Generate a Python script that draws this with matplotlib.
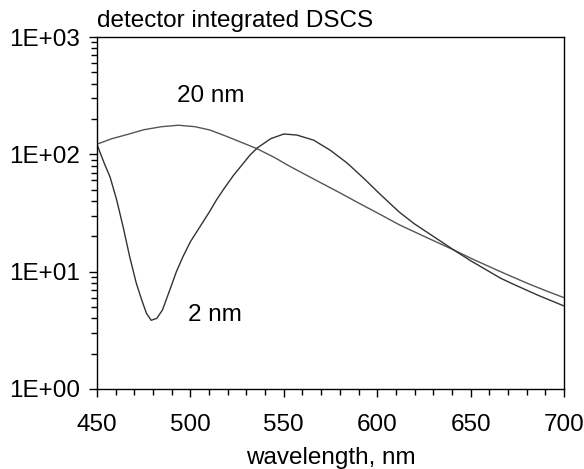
import matplotlib
matplotlib.use("Agg")
import matplotlib.pyplot as plt
from matplotlib.ticker import MultipleLocator, LogLocator, FuncFormatter, NullFormatter

plt.rcParams['font.family'] = ['Liberation Sans', 'DejaVu Sans']

# 2 nm curve (deep dip near 480 nm, peak near 552 nm)
wl_2nm = [450, 451.5, 454, 457, 460.5, 464, 467.5, 471, 474, 476.5, 479, 482, 485, 489,
          492.5, 496, 500, 505, 510, 514, 518, 523, 527, 532, 536, 543, 550, 557, 566,
          575, 584, 593, 602, 612, 620, 630, 641, 650, 666, 673, 686, 700]
dscs_2nm = [122, 105, 83, 64, 41, 24, 13.4, 8.0, 5.7, 4.4, 3.85, 4.0, 4.7, 7.0,
            10, 13.4, 18, 24, 32, 41, 51, 66, 79, 99, 114, 136, 149, 146, 132,
            108, 84, 62, 45, 32, 25.5, 20, 15.3, 12.4, 8.8, 7.8, 6.3, 5.1]

# 20 nm curve (broad hump near 494 nm)
wl_20nm = [450, 458, 466.5, 475, 484.5, 493.5, 502.5, 510.5, 520, 527, 535.5, 545, 552,
           558.7, 570, 580, 590, 602, 612, 626, 641, 652, 666, 680, 690, 700]
dscs_20nm = [122, 136, 148, 162, 172, 177, 172, 161, 141, 127, 112, 94, 81,
             71, 57, 47, 38.5, 30.5, 25, 19.7, 15.3, 12.6, 10.0, 8.0, 6.9, 6.0]

fig = plt.figure(figsize=(5.84, 4.69), dpi=100)
ax = fig.add_axes([0.1661, 0.1706, 0.7997, 0.7505])

ax.plot(wl_20nm, dscs_20nm, color='#555555', lw=1.0)
ax.plot(wl_2nm, dscs_2nm, color='#333333', lw=1.0)

ax.set_yscale('log')
ax.set_xlim(450, 700)
ax.set_ylim(1, 1000)

ax.xaxis.set_major_locator(MultipleLocator(50))
ax.xaxis.set_minor_locator(MultipleLocator(10))
ax.yaxis.set_major_locator(LogLocator(base=10, numticks=10))
ax.yaxis.set_minor_locator(LogLocator(base=10, subs=range(2, 10), numticks=10))
ax.yaxis.set_major_formatter(FuncFormatter(lambda v, p: f"{v:.0E}"))
ax.yaxis.set_minor_formatter(NullFormatter())

ax.tick_params(which='major', direction='out', length=6, width=1, labelsize=17.5)
ax.tick_params(which='minor', direction='out', length=4, width=1)
ax.tick_params(axis='x', which='major', pad=12)
ax.tick_params(axis='y', which='major', pad=6)
for s in ax.spines.values():
    s.set_linewidth(1.0)

ax.set_xlabel("wavelength, nm", fontsize=17.5, labelpad=8)
ax.set_title("detector integrated DSCS", loc='left', fontsize=17.5, pad=7.5)

ax.text(511, 314, "20 nm", fontsize=17.5, ha='center', va='center')
ax.text(513, 4.27, "2 nm", fontsize=17.5, ha='center', va='center')

fig.savefig("out.png", dpi=100)
